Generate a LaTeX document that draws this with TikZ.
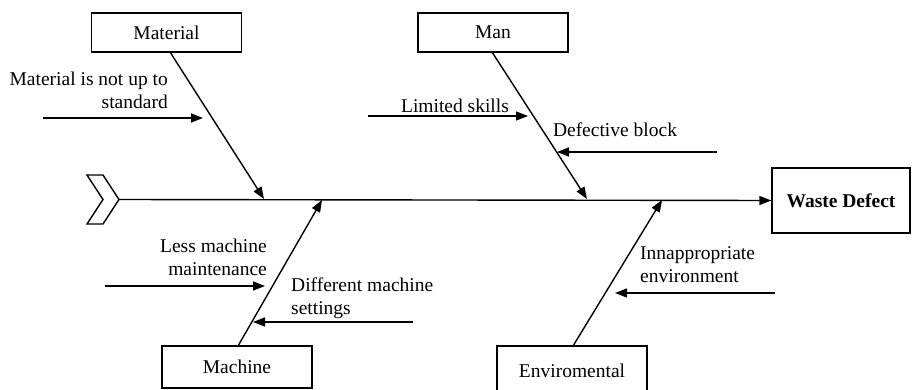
\documentclass[tikz,border=0pt]{standalone}
\usepackage{fontspec}
\setmainfont{Liberation Serif}
\usetikzlibrary{arrows.meta}
\begin{document}
\begin{tikzpicture}[x=1pt,y=-1pt,
  every node/.style={font=\fontsize{19.5}{23}\selectfont},
  catbox/.style={draw,line width=1.4pt,minimum width=150pt,minimum height=39pt,inner sep=0pt},
  lbl/.style={inner sep=0pt},
  bone/.style={line width=1.4pt,-{Triangle[length=12pt,width=9pt]}},
  cause/.style={line width=1.4pt,-{Triangle[length=12pt,width=9pt]}}]
\useasboundingbox (0,0) rectangle (912,390);
% category boxes
\node[catbox] (mat) at (166.5,32.5) {Material};
\node[catbox] (man) at (493,32.5) {Man};
\node[catbox,minimum height=42pt] (mach) at (237,367) {Machine};
\draw[line width=1.4pt] (497,396) -- (497,346) -- (647,346) -- (647,396);
\node[lbl] (env) at (572,371) {Enviromental};
\node[draw,line width=1.4pt,minimum width=138pt,minimum height=65pt,inner sep=0pt,
  font=\fontsize{19.5}{23}\selectfont\bfseries] (wd) at (841,200.5) {Waste Defect};
% head chevron
\draw[line width=1.4pt,line join=miter] (87,175) -- (103,175) -- (119,199.5) -- (103,224) -- (87,224) -- (103,199.5) -- cycle;
\coordinate (tail) at (119,199.5);
\draw[bone] (tail) -- (wd.west);
% bones
\coordinate (matTop) at (170,52);
\coordinate (matTip) at (264,199);
\coordinate (manTop) at (492,52);
\coordinate (manTip) at (587,199);
\coordinate (machBot) at (238,346);
\coordinate (machTip) at (322,200);
\coordinate (envBot) at (573,346);
\coordinate (envTip) at (662,200);
\draw[bone] (matTop) -- (matTip);
\draw[bone] (manTop) -- (manTip);
\draw[bone] (machBot) -- (machTip);
\draw[bone] (envBot) -- (envTip);
% causes
\coordinate (c1s) at (43,118);  \coordinate (c1e) at (203,118);
\coordinate (c2s) at (368,116); \coordinate (c2e) at (528,116);
\coordinate (c3s) at (717,152); \coordinate (c3e) at (557,152);
\coordinate (c4s) at (105,286); \coordinate (c4e) at (265,286);
\coordinate (c5s) at (413,322); \coordinate (c5e) at (253,322);
\coordinate (c6s) at (775,293); \coordinate (c6e) at (615,293);
\draw[cause] (c1s) -- (c1e);
\draw[cause] (c2s) -- (c2e);
\draw[cause] (c3s) -- (c3e);
\draw[cause] (c4s) -- (c4e);
\draw[cause] (c5s) -- (c5e);
\draw[cause] (c6s) -- (c6e);
% labels
\node[lbl,align=right,anchor=east] (t1) at (168,90) {Material is not up to\\standard};
\node[lbl] (t2) at (455,106) {Limited skills};
\node[lbl] (t3) at (615,130) {Defective block};
\node[lbl,align=right,anchor=east] (t4) at (267,257) {Less machine\\maintenance};
\node[lbl,align=left,anchor=west] (t5) at (291,298) {Different machine\\settings};
\node[lbl,align=left,anchor=west] (t6) at (640,265) {Innappropriate\\environment};
\end{tikzpicture}
\end{document}
